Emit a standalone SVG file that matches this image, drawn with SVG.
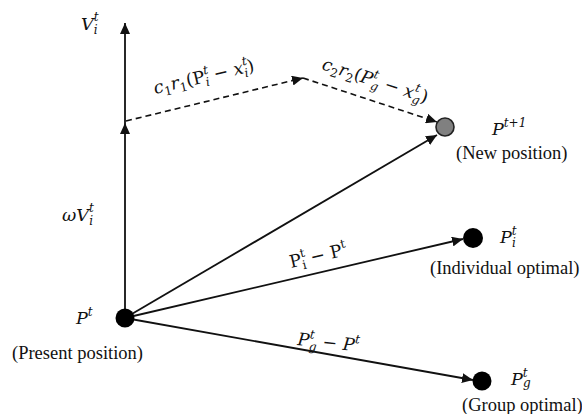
<svg xmlns="http://www.w3.org/2000/svg" width="582" height="414" viewBox="0 0 582 414">
<style>
.ln{stroke:#111;stroke-width:1.8;fill:none}
.ds{stroke:#111;stroke-width:1.6;fill:none;stroke-dasharray:6 4}
.m{font-family:"DejaVu Serif","Liberation Serif",serif;font-style:italic;font-size:17.5px;fill:#111}
.n{font-style:normal}
.u{font-family:"Liberation Serif",serif;font-size:18.5px;fill:#111}
.s{font-size:12px}
</style>
<defs>
<marker id="ah" markerUnits="userSpaceOnUse" markerWidth="12" markerHeight="10" refX="11" refY="5" orient="auto">
<path d="M0,0 L11,5 L0,10 Z" fill="#111"/>
</marker>
</defs>
<g id="connectors">
<line class="ln" x1="125" y1="318" x2="125" y2="123" marker-end="url(#ah)"/>
<line class="ln" x1="125" y1="123" x2="125" y2="23" marker-end="url(#ah)"/>
<line class="ds" x1="126" y1="121" x2="303" y2="78" marker-end="url(#ah)"/>
<line class="ds" x1="303" y1="78" x2="437" y2="122" marker-end="url(#ah)"/>
<line class="ln" x1="125" y1="318" x2="437" y2="135" marker-end="url(#ah)"/>
<line class="ln" x1="125" y1="318" x2="463" y2="239" marker-end="url(#ah)"/>
<line class="ln" x1="125" y1="318" x2="473" y2="380" marker-end="url(#ah)"/>
</g>
<g id="node-present">
<circle cx="125" cy="318" r="9.5" fill="#000"/>
<text class="m" x="76" y="324">P<tspan class="s" dy="-8">t</tspan></text>
<text class="u" x="12" y="359">(Present position)</text>
</g>
<g id="node-new">
<circle cx="445" cy="127" r="9" fill="#808080" stroke="#222" stroke-width="1.6"/>
<text class="m" x="492" y="135">P<tspan class="s" dy="-8">t+1</tspan></text>
<text class="u" x="456" y="159">(New position)</text>
</g>
<g id="node-individual">
<circle cx="473" cy="238" r="10" fill="#000"/>
<text class="m" x="500" y="243">P<tspan class="s" dy="-8">t</tspan><tspan class="s" dx="-4.6" dy="12">i</tspan></text>
<text class="u" x="430" y="274">(Individual optimal)</text>
</g>
<g id="node-group">
<circle cx="482" cy="381" r="9.5" fill="#000"/>
<text class="m" x="511" y="385">P<tspan class="s" dy="-8">t</tspan><tspan class="s" dx="-4.6" dy="10">g</tspan></text>
<text class="u" x="462" y="411">(Group optimal)</text>
</g>
<g id="labels">
<text class="m" x="81" y="30">V<tspan class="s" dy="-9">t</tspan><tspan class="s" dx="-4.6" dy="13">i</tspan></text>
<text class="m" x="62" y="221">ωV<tspan class="s" dy="-9">t</tspan><tspan class="s" dx="-4.6" dy="13">i</tspan></text>
<g transform="translate(155,94) rotate(-13)">
<text class="m" x="0" y="0">c<tspan class="s n" dy="4">1</tspan><tspan dy="-4">r</tspan><tspan class="s n" dy="4">1</tspan><tspan class="n" dy="-4">(P</tspan><tspan class="s" dy="-8">t</tspan><tspan class="s" dx="-4.6" dy="12">i</tspan><tspan class="n" dy="-4"> − </tspan><tspan>x</tspan><tspan class="s" dy="-8">t</tspan><tspan class="s" dx="-4.6" dy="12">i</tspan><tspan class="n" dy="-4">)</tspan></text>
</g>
<g transform="translate(321,69) rotate(18)">
<text class="m" x="0" y="0">c<tspan class="s n" dy="4">2</tspan><tspan dy="-4">r</tspan><tspan class="s n" dy="4">2</tspan><tspan class="n" dy="-4">(</tspan><tspan>P</tspan><tspan class="s" dy="-8">t</tspan><tspan class="s" dx="-4.6" dy="12">g</tspan><tspan class="n" dy="-4"> − </tspan><tspan>x</tspan><tspan class="s" dy="-8">t</tspan><tspan class="s" dx="-4.6" dy="12">g</tspan><tspan class="n" dy="-4">)</tspan></text>
</g>
<g transform="translate(291,268) rotate(-13)">
<text class="m n" x="0" y="0">P<tspan class="s" dy="-8">t</tspan><tspan class="s" dx="-4.6" dy="12">i</tspan><tspan dy="-4"> − P</tspan><tspan class="s" dy="-8">t</tspan></text>
</g>
<g transform="translate(297,345) rotate(6)">
<text class="m" x="0" y="0">P<tspan class="s" dy="-8">t</tspan><tspan class="s" dx="-4.6" dy="12">g</tspan><tspan class="n" dy="-4"> − </tspan><tspan>P</tspan><tspan class="s" dy="-8">t</tspan></text>
</g>
</g>
</svg>
